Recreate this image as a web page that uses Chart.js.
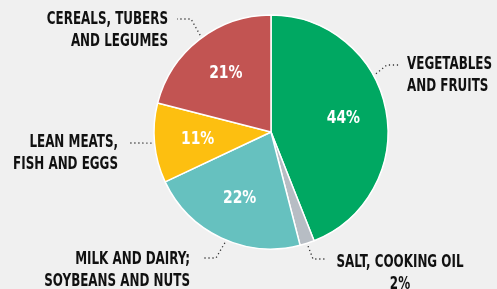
<!DOCTYPE html>
<html>
<head>
<meta charset="utf-8">
<style>
  html, body { margin: 0; padding: 0; background: #f0f0f0; }
  #wrap { width: 497px; height: 289px; position: relative; }
</style>
<script src="https://cdn.jsdelivr.net/npm/chart.js@4.4.1/dist/chart.umd.min.js"></script>
</head>
<body>
<div id="wrap"><canvas id="dietChart"></canvas></div>
<script>
const categories = [
    ['VEGETABLES', 'AND FRUITS'],
    ['SALT, COOKING OIL'],
    ['MILK AND DAIRY;', 'SOYBEANS AND NUTS'],
    ['LEAN MEATS,', 'FISH AND EGGS'],
    ['CEREALS, TUBERS', 'AND LEGUMES']
];
const shares = [44, 2, 22, 11, 21];
const sliceColors = ['#00a862', '#b7bdc4', '#66c1bf', '#fdbf10', '#c25452'];

const labelFont = 'bold 17px "DejaVu Sans Condensed", "DejaVu Sans", sans-serif';
const pctFont = 'bold 18px "DejaVu Sans Condensed", "DejaVu Sans", sans-serif';
// the original type is a tight condensed face, squeeze ours to match
const squeeze = 0.78;

// outside labels: leader leaves the slice at `angle` (deg), bends, then ends next to the text
const callouts = [
    { angle: -29, bend: [387, 65], end: [400, 65], x: 407, y: 69, align: 'left' },
    { angle: 72, bend: [313, 259], end: [327, 259], x: 400, y: 267, align: 'center' },
    { angle: 112.6, bend: [216, 258], end: [203, 258], x: 190, y: 264, align: 'right' },
    { angle: 174.7, bend: [140, 143], end: [128, 143], x: 118, y: 147, align: 'right' },
    { angle: 233.8, bend: [191, 19], end: [177, 19], x: 168, y: 24, align: 'right' }
];

const pieLabels = {
    id: 'pieLabels',
    afterDatasetsDraw(chart) {
        const ctx = chart.ctx;
        const arcs = chart.getDatasetMeta(0).data;
        ctx.save();
        arcs.forEach((arc, i) => {
            const { x, y, startAngle, endAngle, outerRadius } = arc.getProps(['x', 'y', 'startAngle', 'endAngle', 'outerRadius'], true);

            // percentage inside the slice
            if (shares[i] >= 5) {
                const mid = (startAngle + endAngle) / 2;
                const r = outerRadius * 0.63;
                const txt = shares[i] + '%';
                ctx.font = pctFont;
                ctx.fillStyle = '#ffffff';
                ctx.textAlign = 'center';
                ctx.textBaseline = 'middle';
                ctx.fillText(txt, x + Math.cos(mid) * r, y + Math.sin(mid) * r, ctx.measureText(txt).width * 0.86);
            }

            // dotted leader
            const c = callouts[i];
            const a = c.angle * Math.PI / 180;
            ctx.beginPath();
            ctx.setLineDash([1.2, 2.8]);
            ctx.lineWidth = 1.3;
            ctx.strokeStyle = '#333333';
            ctx.moveTo(x + Math.cos(a) * (outerRadius + 3), y + Math.sin(a) * (outerRadius + 3));
            ctx.lineTo(c.bend[0], c.bend[1]);
            ctx.lineTo(c.end[0], c.end[1]);
            ctx.stroke();
            ctx.setLineDash([]);

            // label text
            let lines = categories[i];
            if (shares[i] < 5) lines = lines.concat([shares[i] + '%']);
            ctx.font = labelFont;
            ctx.fillStyle = '#111111';
            ctx.textAlign = c.align;
            ctx.textBaseline = 'alphabetic';
            lines.forEach((line, k) => {
                const w = ctx.measureText(line).width;
                ctx.fillText(line, c.x, c.y + k * 22, w * squeeze);
            });
        });
        ctx.restore();
    }
};

const dietCtx = document.getElementById('dietChart').getContext('2d');
new Chart(dietCtx, {
    type: 'pie',
    data: {
        labels: categories,
        datasets: [{
            data: shares,
            backgroundColor: sliceColors,
            borderColor: '#ffffff',
            borderWidth: 1.5
        }]
    },
    options: {
        maintainAspectRatio: false,
        responsive: true,
        animation: false,
        radius: 117,
        layout: {
            padding: { left: 154, right: 109, top: 15, bottom: 40 }
        },
        plugins: {
            legend: { display: false },
            tooltip: { enabled: false }
        }
    },
    plugins: [pieLabels]
});
</script>
</body>
</html>
